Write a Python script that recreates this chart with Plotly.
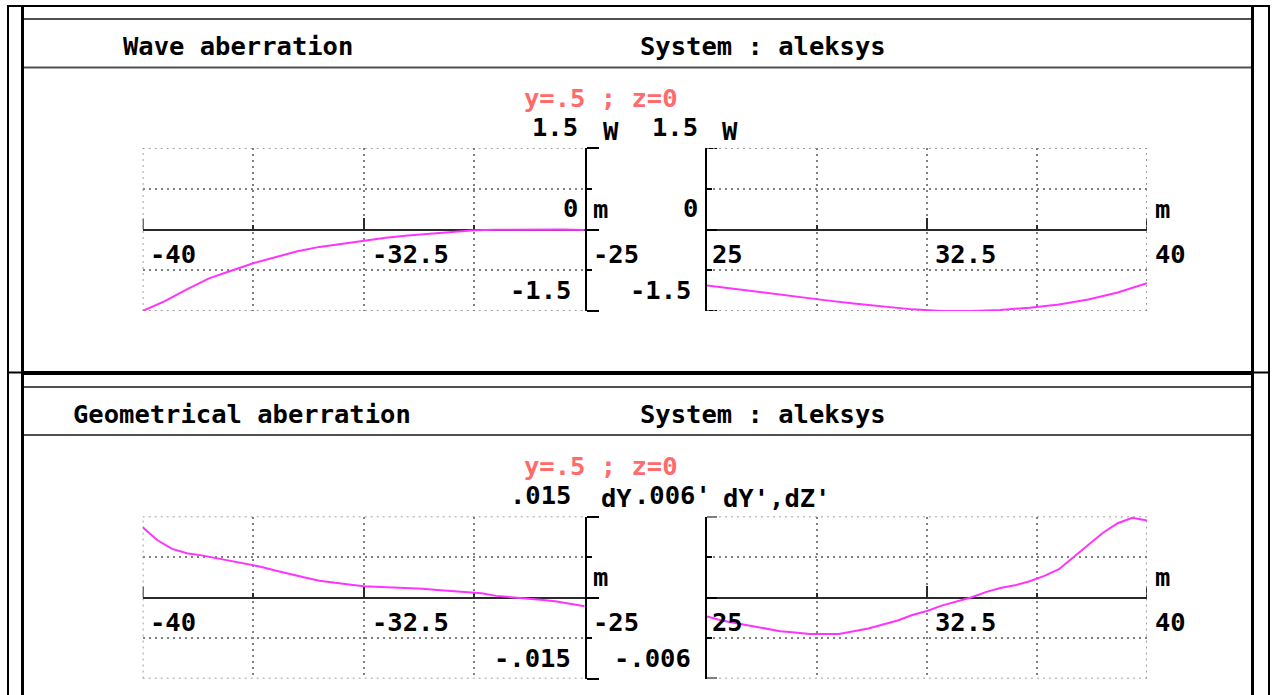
import plotly.graph_objects as go

W, H = 1274, 695

# ---- data -------------------------------------------------------------
wave_left_x = [-40, -39.25, -38.5, -37.75, -37, -36.25, -35.5, -34.75, -34, -33.25,
               -32.5, -31.75, -31, -30.25, -29.5, -28.75, -28, -27.25, -26.5, -25.75, -25]
wave_left_w = [-1.50, -1.32, -1.10, -0.90, -0.76, -0.62, -0.51, -0.40, -0.32, -0.26,
               -0.20, -0.15, -0.11, -0.08, -0.04, -0.015, -0.005, 0.0, 0.0, 0.0, -0.01]

wave_right_x = [25, 26, 27, 28, 29, 30, 31, 32, 33, 34, 35, 36, 37, 38, 39, 40]
wave_right_w = [-1.03, -1.10, -1.17, -1.23, -1.30, -1.36, -1.42, -1.47, -1.50, -1.50,
                -1.48, -1.44, -1.38, -1.29, -1.16, -0.99]

geo_left_x = [-40, -39.5, -39, -38.5, -38, -37.5, -37, -36.5, -36, -35.5, -35, -34.5,
              -34, -33.5, -33, -32.5, -32, -31.5, -31, -30.5, -30, -29.5, -29, -28.5,
              -28, -27.5, -27, -26.5, -26, -25.5, -25]
geo_left_d = [0.0130, 0.0106, 0.0090, 0.0082, 0.0078, 0.0073, 0.0068, 0.0063, 0.0057,
              0.0050, 0.0043, 0.0037, 0.0031, 0.0027, 0.0024, 0.0021, 0.0020, 0.0019,
              0.0018, 0.0016, 0.0014, 0.0012, 0.0010, 0.0008, 0.0003, 0.0001, -0.0001,
              -0.0004, -0.0007, -0.0011, -0.0016]

geo_right_x = [25, 25.5, 26, 26.5, 27, 27.5, 28, 28.5, 29, 29.5, 30, 30.5, 31, 31.5, 32,
               32.5, 33, 33.5, 34, 34.5, 35, 35.5, 36, 36.5, 37, 37.5, 38, 38.5, 39, 39.5, 40]
geo_right_d = [-0.0014, -0.0017, -0.0019, -0.0021, -0.0023, -0.0025, -0.0026, -0.0027,
               -0.0027, -0.0027, -0.0025, -0.0023, -0.0020, -0.0017, -0.0013, -0.0010,
               -0.0006, -0.0003, 0.0000, 0.0004, 0.0007, 0.0009, 0.0012, 0.0016, 0.0021,
               0.0030, 0.0039, 0.0048, 0.0055, 0.0059, 0.0057]

left_ticks = [-40, -32.5, -25]
left_minor = [-36.25, -28.75]
right_ticks = [25, 32.5, 40]
right_minor = [28.75, 36.25]
tick_labels_left = ["-40", "-32.5", "-25"]
tick_labels_right = ["25", "32.5", "40"]

wave_lim = 1.5
geo_lim_left = 0.015
geo_lim_right = 0.006

# ---- styling ----------------------------------------------------------
FONT = "DejaVu Sans Mono"
FS = 25.5
INK = "#000000"
PINK = "#ff6b6b"
CURVE = "#ff33ff"
GRID = "#808080"
GRID_DASH = "2px,4px"
AXIS = "#2a2a2a"


def px(x):
    return x / W


def py(y):
    return 1 - y / H


X_LEFT = (142.7, 584.7)
X_RIGHT = (707.0, 1147.0)
Y_TOP = (148.0, 311.0)
Y_BOT = (516.5, 678.5)

fig = go.Figure()
shapes = []


def add_panel(n, xdom, ydom, xr, xticks, xminor, ylim, yside, x, y):
    xa = "xaxis" if n == 1 else f"xaxis{n}"
    ya = "yaxis" if n == 1 else f"yaxis{n}"
    xref = "x" if n == 1 else f"x{n}"
    yref = "y" if n == 1 else f"y{n}"
    zero_pos = py((ydom[0] + ydom[1]) / 2)
    gridcommon = dict(showgrid=True, gridcolor=GRID, griddash=GRID_DASH, gridwidth=1.5)
    fig.update_layout(**{
        xa: dict(domain=[px(xdom[0]), px(xdom[1])], range=list(xr), anchor="free",
                 position=zero_pos, showline=True, linecolor=AXIS, linewidth=2,
                 ticks="inside", tickvals=xticks, ticklen=11, tickwidth=2, tickcolor=AXIS,
                 showticklabels=False, zeroline=False, layer="below traces",
                 minor=dict(tickvals=xminor, ticks="inside", ticklen=4, tickwidth=2,
                            tickcolor=AXIS, **gridcommon),
                 **gridcommon),
        ya: dict(domain=[py(ydom[1]), py(ydom[0])], range=[-ylim, ylim], anchor=xref,
                 side=yside, showline=True, linecolor="#000000", linewidth=2,
                 ticks="outside" if yside == "right" else "inside",
                 tickvals=[-ylim, 0, ylim], ticklen=12 if yside == "right" else 10,
                 tickwidth=2, tickcolor="#000000", showticklabels=False, zeroline=False,
                 layer="below traces",
                 minor=dict(tickvals=[-ylim / 2, ylim / 2],
                            ticks="outside" if yside == "right" else "inside",
                            ticklen=5, tickwidth=2, tickcolor="#000000", **gridcommon),
                 **gridcommon),
    })

    # grid lines and ticks that sit on the plot edges
    dotted = dict(color=GRID, width=1.5, dash=GRID_DASH)
    for yv in (-ylim, ylim):
        shapes.append(dict(type="line", xref=xref, yref=yref, x0=xr[0], x1=xr[1],
                           y0=yv, y1=yv, line=dotted, layer="between"))
    outer_x = xr[0] if yside == "right" else xr[1]
    shapes.append(dict(type="line", xref=xref, yref=yref, x0=outer_x, x1=outer_x,
                       y0=-ylim, y1=ylim, line=dotted, layer="between"))
    shapes.append(dict(type="line", xref=xref, yref=yref, x0=outer_x, x1=outer_x,
                       ysizemode="pixel", yanchor=0, y0=0, y1=11,
                       line=dict(color=AXIS, width=2), layer="below"))
    if yside == "left":
        for yv in (-ylim, ylim):
            shapes.append(dict(type="line", xref=xref, yref=yref, xsizemode="pixel",
                               xanchor=xr[0], x0=-1, x1=10, y0=yv, y1=yv,
                               line=dict(color="#000000", width=2), layer="below"))

    fig.add_trace(go.Scatter(x=x, y=y, xaxis=xref, yaxis=yref, mode="lines",
                             line=dict(color=CURVE, width=2), cliponaxis=False,
                             hoverinfo="skip", showlegend=False))


add_panel(1, X_LEFT, Y_TOP, (-40, -25), left_ticks, left_minor, wave_lim, "right",
          wave_left_x, wave_left_w)
add_panel(2, X_RIGHT, Y_TOP, (25, 40), right_ticks, right_minor, wave_lim, "left",
          wave_right_x, wave_right_w)
add_panel(3, X_LEFT, Y_BOT, (-40, -25), left_ticks, left_minor, geo_lim_left, "right",
          geo_left_x, geo_left_d)
add_panel(4, X_RIGHT, Y_BOT, (25, 40), right_ticks, right_minor, geo_lim_right, "left",
          geo_right_x, geo_right_d)


# ---- frame lines ------------------------------------------------------
def hline(x0, x1, y, w, c="#000000"):
    shapes.append(dict(type="line", xref="paper", yref="paper", x0=px(x0), x1=px(x1),
                       y0=py(y), y1=py(y), line=dict(color=c, width=w), layer="above"))


def vline(x, y0, y1, w, c="#000000"):
    shapes.append(dict(type="line", xref="paper", yref="paper", x0=px(x), x1=px(x),
                       y0=py(y0), y1=py(y1), line=dict(color=c, width=w), layer="above"))


hline(7, 1270, 6, 2)
vline(8, 5, 700, 2)
vline(1269, 5, 700, 2)
vline(22.5, 6, 700, 3)
vline(1252.5, 6, 700, 3)
hline(22, 1253, 373, 4)
hline(7, 22, 372.5, 2)
hline(1253, 1270, 372.5, 2)
for yy in (19, 67.5, 387, 435):
    hline(24, 1251, yy, 2, "#4d524d")


# white cells behind the axis numbers, between the grid and the curves
def cell(x0, x1, yc):
    shapes.append(dict(type="rect", xref="paper", yref="paper", x0=px(x0), x1=px(x1),
                       y0=py(yc + 17), y1=py(yc - 14), fillcolor="white",
                       line=dict(width=0), layer="between"))


annotations = []


def label(text, x, y, anchor="left", color=INK, bg=None):
    a = dict(text=text, xref="paper", yref="paper", x=px(x), y=py(y), xanchor=anchor,
             yanchor="middle", showarrow=False, borderpad=0, borderwidth=0,
             font=dict(family=FONT, size=FS, color=color, weight="bold"))
    if bg:
        a["bgcolor"] = bg
    annotations.append(a)


for dy, title in ((0, "Wave aberration"), (368, "Geometrical aberration")):
    label(title, 123 if dy == 0 else 73, 46 + dy)
    label("System : aleksys", 640, 46 + dy)
    label("y=.5 ; z=0", 524, 98 + dy, color=PINK)
    # x tick numbers under the axes
    for lab, xl in zip(tick_labels_left, (150, 372, 593)):
        label(lab, xl, 254 + dy)
    for lab, xl in zip(tick_labels_right, (712, 935, 1155)):
        label(lab, xl, 254 + dy)
    for xl, n in ((147, 3), (368, 5), (708, 2), (930, 4)):
        cell(xl, xl + 4 + n * 15.4, 254 + dy)
    label("m", 593, 209 + dy)
    label("m", 1155, 209 + dy)

# wave aberration scale labels
label("1.5", 578, 127, anchor="right")
label("W", 603, 131)
label("1.5", 698, 127, anchor="right")
label("W", 722, 131)
label("0", 578, 208, anchor="right")
label("0", 698, 208, anchor="right")
label("-1.5", 571, 290, anchor="right")
label("-1.5", 691, 290, anchor="right")

# geometrical aberration scale labels
label(".015", 571, 495, anchor="right")
label("dY", 601, 498)
label(".006'", 634, 495)
label("dY',dZ'", 723, 498)
label("-.015", 571, 658, anchor="right")
label("-.006", 691, 658, anchor="right")

fig.update_layout(width=W, height=H, margin=dict(l=0, r=0, t=0, b=0),
                  paper_bgcolor="white", plot_bgcolor="rgba(0,0,0,0)",
                  shapes=shapes, annotations=annotations, showlegend=False)

fig.write_html("out.html", config={"displayModeBar": False})
